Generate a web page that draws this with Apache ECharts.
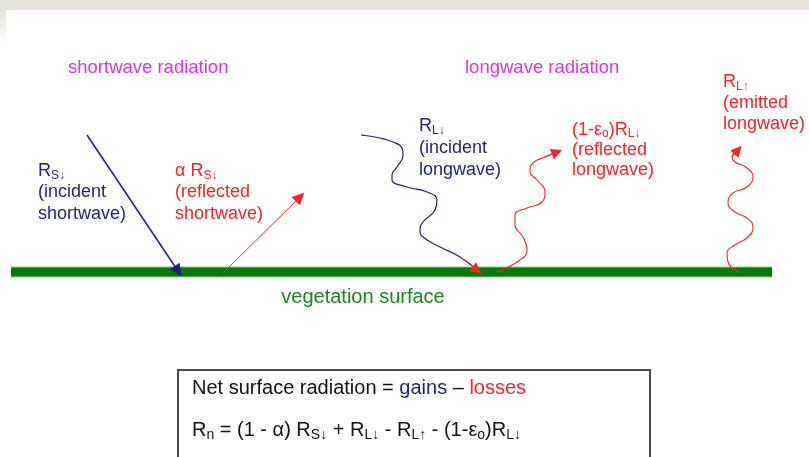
<!DOCTYPE html>
<html>
<head>
<meta charset="utf-8">
<title>Net surface radiation</title>
<script src="https://cdn.jsdelivr.net/npm/echarts@6/dist/echarts.min.js"></script>
<style>
  html, body { margin: 0; padding: 0; background: #fff; }
  #chart { width: 809px; height: 457px; }
</style>
</head>
<body>
<div id="chart"></div>
<script>
// Diagram data (x, y in picture units, y down)
const surfaceLine = [[11, 272], [772, 272]];
const swIncident = [[87, 135], [178, 271]];
const swReflected = [[223, 273], [300, 197]];
const lwIncident = [[361, 135], [380, 138], [393, 142], [402, 148], [403, 155], [397, 167], [392, 175], [392, 180], [407, 187], [427, 192], [437, 200], [435, 210], [423, 222], [420, 230], [423, 237], [440, 247], [460, 257], [477, 270]];
const lwReflected = [[497, 272], [520, 260], [527, 250], [523, 237], [515, 225], [515, 215], [527, 208], [542, 202], [545, 192], [537, 180], [530, 172], [533, 163], [545, 157], [557, 152]];
const lwEmitted = [[738, 272], [728, 262], [727, 253], [735, 245], [748, 237], [753, 227], [747, 218], [735, 212], [728, 203], [733, 193], [747, 187], [753, 177], [747, 168], [735, 162], [732, 157], [738, 150]];

// Label anchors (top-left of each text block) and texts
const labelAnchors = [[68, 57], [465, 57], [38, 160], [175, 160], [419, 115], [572, 120], [723, 72], [363, 286], [192, 376], [192, 418]];
const labelTexts = [
  '{m|shortwave radiation}',
  '{m|longwave radiation}',
  '{m|R}{s|S↓}\n{m|(incident}\n{m|shortwave)}',
  '{m|α R}{s|S↓}\n{m|(reflected}\n{m|shortwave)}',
  '{m|R}{s|L↓}\n{m|(incident}\n{m|longwave)}',
  '{m|(1-ε}{s|o}{m|)R}{s|L↓}\n{m|(reflected}\n{m|longwave)}',
  '{m|R}{s|L↑}\n{m|(emitted}\n{m|longwave)}',
  '{m|vegetation surface}',
  '{m|Net surface radiation = }{g|gains}{m| – }{l|losses}',
  '{m|R}{s|n}{m| = (1 - α) R}{s|S↓}{m| + R}{s|L↓}{m| - R}{s|L↑}{m| - (1-ε}{s|o}{m|)R}{s|L↓}'
];

const NAVY = '#1e1e7c';
const RED = '#f22626';
const MAGENTA = '#dc34dc';
const GREEN = '#0b780b';
const FONT = '"Liberation Sans", Arial, sans-serif';

const labelColors = [MAGENTA, MAGENTA, NAVY, RED, NAVY, RED, RED, '#18881a', '#111', '#111'];
const labelSizes = [18.5, 18.5, 18, 18, 18, 18, 18, 20, 20, 20];
const labelLineHeights = [21, 21, 21.5, 21.5, 22, 20, 21, 22, 24, 24];

function richFor(size, lh, color) {
  return {
    m: { fontSize: size, lineHeight: lh, color: color, fontFamily: FONT },
    s: { fontSize: Math.round(size * 0.68), lineHeight: Math.round(size * 0.68), verticalAlign: 'bottom', color: color, fontFamily: FONT },
    g: { fontSize: size, lineHeight: lh, color: NAVY, fontFamily: FONT },
    l: { fontSize: size, lineHeight: lh, color: RED, fontFamily: FONT }
  };
}

const labelData = labelAnchors.map((p, i) => ({
  value: p,
  label: {
    show: true,
    position: [0, 0],
    align: i === 7 ? 'center' : 'left',
    verticalAlign: 'top',
    formatter: labelTexts[i],
    rich: richFor(labelSizes[i], labelLineHeights[i], labelColors[i])
  }
}));

function waveSeries(data, color, width) {
  return {
    type: 'line',
    data: data,
    smooth: 0.5,
    symbol: 'none',
    lineStyle: { color: color, width: width },
    z: 3
  };
}

function arrowSeries(coords, color, width, size) {
  return {
    type: 'lines',
    coordinateSystem: 'cartesian2d',
    symbol: ['none', 'triangle'],
    symbolSize: size,
    lineStyle: { color: color, width: width, opacity: 1 },
    data: [{ coords: coords }],
    z: 4
  };
}

const last2 = arr => arr.slice(-2);

const chart = echarts.init(document.getElementById('chart'), null, { renderer: 'canvas' });

chart.setOption({
  animation: false,
  backgroundColor: '#fff',
  grid: { left: 0, right: 0, top: 0, bottom: 0 },
  xAxis: { type: 'value', min: 0, max: 809, show: false },
  yAxis: { type: 'value', min: 0, max: 457, inverse: true, show: false },
  graphic: [
    // faded slide background showing at the top and left edges
    { type: 'rect', shape: { x: 0, y: 0, width: 809, height: 10 }, style: { fill: '#e6e4dc' }, z: -1 },
    {
      type: 'rect', shape: { x: 0, y: 10, width: 6, height: 36 }, z: -1,
      style: {
        fill: new echarts.graphic.LinearGradient(0, 0, 0, 1, [
          { offset: 0, color: '#e6e4dc' },
          { offset: 1, color: '#ffffff' }
        ])
      }
    },
    // equation box
    {
      type: 'rect', shape: { x: 178, y: 370, width: 472, height: 110 }, z: 0,
      style: { fill: '#fff', stroke: '#4a4a4a', lineWidth: 2 }
    }
  ],
  series: [
    {
      // light rim of the surface band
      type: 'line', data: surfaceLine, symbol: 'none',
      lineStyle: { color: '#8cc88c', width: 11, cap: 'butt' }, z: 1
    },
    {
      type: 'line', data: surfaceLine, symbol: 'none',
      lineStyle: { color: GREEN, width: 9, cap: 'butt' }, z: 2
    },
    arrowSeries(swIncident, NAVY, 1.5, 12),
    arrowSeries(swReflected, RED, 1, 12),
    waveSeries(lwIncident, NAVY, 1.2),
    arrowSeries(last2(lwIncident), RED, 1, 11),
    waveSeries(lwReflected, RED, 1.1),
    arrowSeries(last2(lwReflected), RED, 1, 11),
    waveSeries(lwEmitted, RED, 1.1),
    arrowSeries(last2(lwEmitted), RED, 1, 11),
    {
      type: 'scatter',
      symbolSize: 0,
      itemStyle: { opacity: 1 },
      data: labelData,
      silent: true,
      z: 5
    }
  ]
});
</script>
</body>
</html>
